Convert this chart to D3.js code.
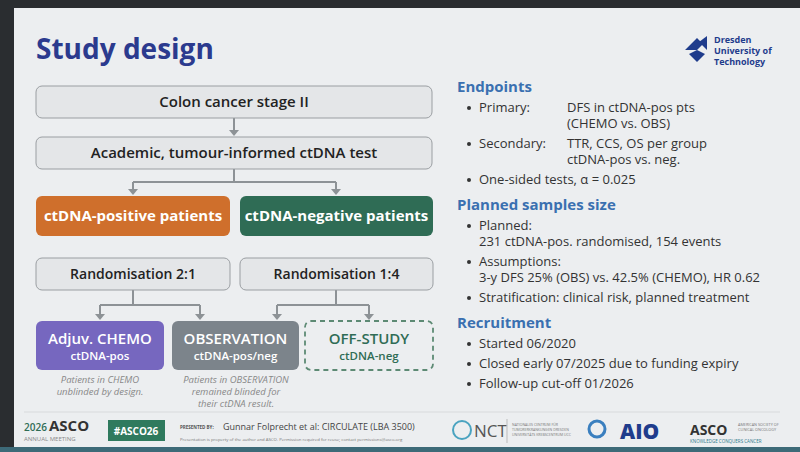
<!DOCTYPE html>
<html><head><meta charset="utf-8">
<script src="https://cdn.jsdelivr.net/npm/d3@7"></script>
<style>body{margin:0;background:#222}svg{display:block;font-family:"Open Sans",sans-serif}</style>
</head><body><svg id="c" width="800" height="452"></svg>
<script>
// flow boxes: label, sub-label, x, y, w, h, style
var flowBoxes = [
    ["Colon cancer stage II", "", 36, 86, 396, 32, "plain"],
    ["Academic, tumour-informed ctDNA test", "", 36, 137, 396, 32, "plain"],
    ["ctDNA-positive patients", "", 36, 196, 194, 40, "orange"],
    ["ctDNA-negative patients", "", 240, 196, 193, 40, "green"],
    ["Randomisation 2:1", "", 36, 258, 194, 32, "rand"],
    ["Randomisation 1:4", "", 240, 258, 193, 32, "rand"],
    ["Adjuv. CHEMO", "ctDNA-pos", 36, 321, 128, 49, "purple"],
    ["OBSERVATION", "ctDNA-pos/neg", 172, 321, 127, 49, "grey"],
    ["OFF-STUDY", "ctDNA-neg", 305, 321, 128, 49, "dashed"]
];
// connectors: from x, from y, split y, target xs, target y
var connectors = [
    [234, 118, 128, [234], 137],
    [234, 169, 182, [133, 336], 196],
    [133, 290, 305, [100, 200], 321],
    [336, 290, 305, [277, 369], 321]
];
var notes = [
    [100, ["Patients in CHEMO", "unblinded by design."]],
    [236, ["Patients in OBSERVATION", "remained blinded for", "their ctDNA result."]]
];
var sections = [
    ["Endpoints", 92, [
        ["Primary:", ["DFS in ctDNA-pos pts", "(CHEMO vs. OBS)"]],
        ["Secondary:", ["TTR, CCS, OS per group", "ctDNA-pos vs. neg."]],
        ["One-sided tests, α = 0.025", []]
    ]],
    ["Planned samples size", 210, [
        ["Planned:", ["231 ctDNA-pos. randomised, 154 events"]],
        ["Assumptions:", ["3-y DFS 25% (OBS) vs. 42.5% (CHEMO), HR 0.62"]],
        ["Stratification: clinical risk, planned treatment", []]
    ]],
    ["Recruitment", 328, [
        ["Started 06/2020", []],
        ["Closed early 07/2025 due to funding expiry", []],
        ["Follow-up cut-off 01/2026", []]
    ]]
];
var styles = {
    plain: {fill: "#e4e6e8", stroke: "#9a9ea2", text: "#222", size: 15, weight: 600},
    rand: {fill: "#e4e6e8", stroke: "#9a9ea2", text: "#222", size: 14, weight: 600},
    orange: {fill: "#cf6f2c", stroke: "none", text: "#fff", size: 15, weight: 700},
    green: {fill: "#2f6c55", stroke: "none", text: "#fff", size: 15, weight: 700},
    purple: {fill: "#7667bf", stroke: "none", text: "#fff", size: 15, weight: 600},
    grey: {fill: "#7c848b", stroke: "none", text: "#fff", size: 15, weight: 600},
    dashed: {fill: "none", stroke: "#5d8a74", text: "#2f6c55", size: 15, weight: 600}
};

var svg = d3.select("#c");
svg.append("rect").attr("x", 0).attr("y", 0).attr("width", 800).attr("height", 452).attr("fill", "#2a2d30");
svg.append("rect").attr("x", 14).attr("y", 8).attr("width", 786).attr("height", 439).attr("fill", "#eceef0");
svg.append("rect").attr("x", 0).attr("y", 447).attr("width", 800).attr("height", 5).attr("fill", "#3d6a78");

svg.append("text").attr("x", 36).attr("y", 59).attr("fill", "#2b3a8e")
    .style("font-size", "28px").style("font-weight", 700).text("Study design");

// Dresden logo
var logo = svg.append("g").attr("transform", "translate(685,36)");
logo.append("path").attr("d", "M0,14 L12,2 L18,8 L12,14 Z M4,18 L12,26 L20,18 L12,14 Z").attr("fill", "#1f3c8c");
logo.append("path").attr("d", "M14,6 L22,0 L22,14 Z").attr("fill", "#1f3c8c");
["Dresden", "University of", "Technology"].forEach(function (t, i) {
    logo.append("text").attr("x", 29).attr("y", 7 + i * 11).attr("fill", "#1f3c8c")
        .style("font-size", "9px").style("font-weight", 700).text(t);
});

// connectors
var lines = svg.append("g").attr("stroke", "#8d9296").attr("stroke-width", 2).attr("fill", "none");
connectors.forEach(function (c) {
    lines.append("line").attr("x1", c[0]).attr("y1", c[1]).attr("x2", c[0]).attr("y2", c[3].length > 1 ? c[2] : c[4] - 5);
    if (c[3].length > 1) {
        lines.append("line").attr("x1", d3.min(c[3])).attr("x2", d3.max(c[3])).attr("y1", c[2]).attr("y2", c[2]);
        c[3].forEach(function (x) {
            lines.append("line").attr("x1", x).attr("x2", x).attr("y1", c[2]).attr("y2", c[4] - 5);
        });
    }
    c[3].forEach(function (x) {
        svg.append("path").attr("d", "M" + (x - 5) + "," + (c[4] - 7) + " L" + (x + 5) + "," + (c[4] - 7) + " L" + x + "," + (c[4] - 1) + "Z").attr("fill", "#8d9296");
    });
});

// boxes
var box = svg.selectAll(".box").data(flowBoxes).enter().append("g").attr("class", "box");
box.append("rect")
    .attr("x", function (d) { return d[2]; }).attr("y", function (d) { return d[3]; })
    .attr("width", function (d) { return d[4]; }).attr("height", function (d) { return d[5]; })
    .attr("rx", 6)
    .attr("fill", function (d) { return styles[d[6]].fill; })
    .attr("stroke", function (d) { return styles[d[6]].stroke; })
    .attr("stroke-width", function (d) { return d[6] == "dashed" ? 1.8 : 1; })
    .attr("stroke-dasharray", function (d) { return d[6] == "dashed" ? "5,4" : null; });
box.append("text")
    .attr("x", function (d) { return d[2] + d[4] / 2; })
    .attr("y", function (d) { return d[1] ? d[3] + 23 : d[3] + d[5] / 2 + 5; })
    .attr("text-anchor", "middle")
    .attr("fill", function (d) { return styles[d[6]].text; })
    .style("font-size", function (d) { return styles[d[6]].size + "px"; })
    .style("font-weight", function (d) { return styles[d[6]].weight; })
    .text(function (d) { return d[0]; });
box.filter(function (d) { return d[1]; }).append("text")
    .attr("x", function (d) { return d[2] + d[4] / 2; })
    .attr("y", function (d) { return d[3] + 39; })
    .attr("text-anchor", "middle")
    .attr("fill", function (d) { return styles[d[6]].text; })
    .style("font-size", "11.5px").style("font-weight", 600)
    .text(function (d) { return d[1]; });

// notes
notes.forEach(function (n) {
    n[1].forEach(function (t, i) {
        svg.append("text").attr("x", n[0]).attr("y", 383 + i * 12).attr("text-anchor", "middle")
            .attr("fill", "#888").style("font-size", "9.5px").style("font-style", "italic").text(t);
    });
});

// right column
sections.forEach(function (s) {
    svg.append("text").attr("x", 457).attr("y", s[1]).attr("fill", "#3a70b0")
        .style("font-size", "15px").style("font-weight", 700).text(s[0]);
    var y = s[1] + 20;
    s[2].forEach(function (b) {
        svg.append("circle").attr("cx", 469).attr("cy", y - 4).attr("r", 2).attr("fill", "#333");
        svg.append("text").attr("x", 479).attr("y", y).attr("fill", "#333").style("font-size", "13px").text(b[0]);
        var inline = b[0] == "Primary:" || b[0] == "Secondary:";
        b[1].forEach(function (t, i) {
            if (inline) {
                svg.append("text").attr("x", 567).attr("y", y + i * 16).attr("fill", "#333").style("font-size", "13px").text(t);
            } else {
                svg.append("text").attr("x", 479).attr("y", y + (i + 1) * 16).attr("fill", "#333").style("font-size", "13px").text(t);
            }
        });
        y += (inline ? Math.max(1, b[1].length) : 1 + b[1].length) * 16 + 4;
    });
});

// footer
svg.append("line").attr("x1", 24).attr("x2", 780).attr("y1", 412).attr("y2", 412).attr("stroke", "#d8dadc");
svg.append("text").attr("x", 24).attr("y", 431).style("font-size", "10px").attr("fill", "#2f6c55").style("font-weight", 600).text("2026");
svg.append("text").attr("x", 49).attr("y", 431).style("font-size", "15px").attr("fill", "#333").style("font-weight", 700).text("ASCO");
svg.append("text").attr("x", 24).attr("y", 441).style("font-size", "6px").attr("fill", "#888").text("ANNUAL MEETING");
svg.append("rect").attr("x", 108).attr("y", 420).attr("width", 57).attr("height", 21).attr("fill", "#2f7a5e");
svg.append("text").attr("x", 136).attr("y", 435).attr("text-anchor", "middle").attr("fill", "#fff").style("font-size", "10px").style("font-weight", 700).text("#ASCO26");
svg.append("text").attr("x", 180).attr("y", 429).style("font-size", "4.5px").attr("fill", "#555").style("font-weight", 700).text("PRESENTED BY:");
svg.append("text").attr("x", 223).attr("y", 430).style("font-size", "9px").attr("fill", "#444").text("Gunnar Folprecht et al: CIRCULATE (LBA 3500)");
svg.append("text").attr("x", 180).attr("y", 441).style("font-size", "4.3px").attr("fill", "#777").text("Presentation is property of the author and ASCO. Permission required for reuse; contact permissions@asco.org");
svg.append("circle").attr("cx", 462).attr("cy", 430).attr("r", 9).attr("fill", "none").attr("stroke", "#4aa3c0").attr("stroke-width", 2);
svg.append("text").attr("x", 474).attr("y", 437).style("font-size", "17px").attr("fill", "#555").text("NCT");
svg.append("line").attr("x1", 507).attr("x2", 507).attr("y1", 419).attr("y2", 443).attr("stroke", "#bbb");
["NATIONALES CENTRUM FÜR", "TUMORERKRANKUNGEN DRESDEN", "UNIVERSITÄTS KREBSCENTRUM UCC"].forEach(function (t, i) {
    svg.append("text").attr("x", 512).attr("y", 426 + i * 5).style("font-size", "3.5px").attr("fill", "#777").text(t);
});
svg.append("circle").attr("cx", 597).attr("cy", 429).attr("r", 8).attr("fill", "none").attr("stroke", "#3a7fbf").attr("stroke-width", 3);
svg.append("text").attr("x", 620).attr("y", 439).style("font-size", "21px").style("font-weight", 800).attr("fill", "#1f3c8c").text("AIO");
svg.append("text").attr("x", 690).attr("y", 435).style("font-size", "14px").style("font-weight", 700).attr("fill", "#333").text("ASCO");
svg.append("text").attr("x", 690).attr("y", 443).style("font-size", "4.5px").attr("fill", "#2f7a8e").text("KNOWLEDGE CONQUERS CANCER");
["AMERICAN SOCIETY OF", "CLINICAL ONCOLOGY"].forEach(function (t, i) {
    svg.append("text").attr("x", 738).attr("y", 426 + i * 5).style("font-size", "3.8px").attr("fill", "#777").text(t);
});
</script></body></html>
